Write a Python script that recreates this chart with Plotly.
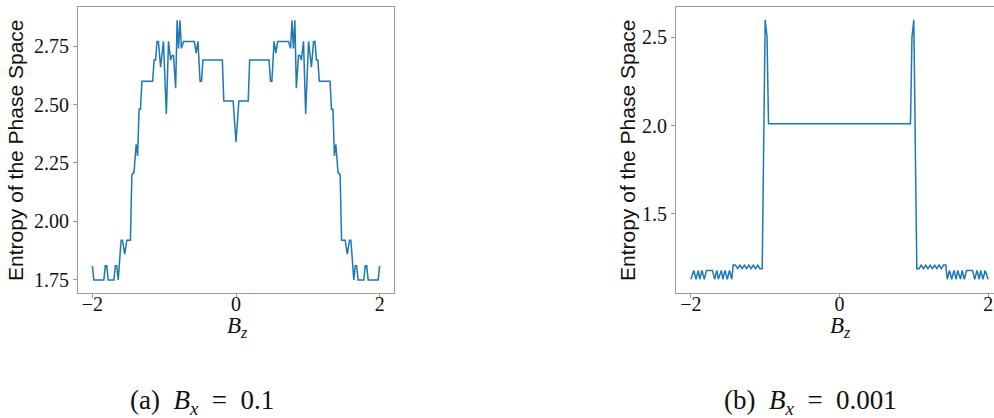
import plotly.graph_objects as go

# ---------------- data (a) Bx = 0.1 ----------------
bz_a = [-2.00, -1.98, -1.84, -1.82, -1.80, -1.78, -1.70, -1.68, -1.66, -1.64,
        -1.60, -1.58, -1.55, -1.52, -1.47, -1.45, -1.42, -1.39, -1.37, -1.35,
        -1.33, -1.31, -1.16, -1.14, -1.12, -1.10, -1.08, -1.05, -1.01, -0.97,
        -0.94, -0.91, -0.89, -0.87, -0.84, -0.82, -0.80, -0.78, -0.76, -0.73,
        -0.58, -0.555, -0.53, -0.50, -0.48, -0.46, -0.19, -0.17, -0.04, 0.00,
        0.04, 0.17, 0.19, 0.46, 0.48, 0.50, 0.53, 0.555, 0.58, 0.73,
        0.76, 0.78, 0.80, 0.82, 0.84, 0.87, 0.89, 0.91, 0.94, 0.97,
        1.01, 1.05, 1.08, 1.10, 1.12, 1.14, 1.16, 1.31, 1.33, 1.35,
        1.37, 1.39, 1.42, 1.45, 1.47, 1.52, 1.55, 1.58, 1.60, 1.64,
        1.66, 1.68, 1.70, 1.78, 1.80, 1.82, 1.84, 1.98, 2.00]
s_a = [1.81, 1.75, 1.75, 1.81, 1.81, 1.75, 1.75, 1.81, 1.81, 1.75,
       1.92, 1.92, 1.86, 1.92, 1.92, 2.20, 2.21, 2.33, 2.28, 2.48,
       2.48, 2.60, 2.60, 2.69, 2.69, 2.77, 2.77, 2.66, 2.77, 2.46,
       2.77, 2.69, 2.71, 2.71, 2.57, 2.86, 2.74, 2.86, 2.74, 2.77,
       2.77, 2.72, 2.77, 2.60, 2.60, 2.69, 2.69, 2.515, 2.515, 2.34,
       2.515, 2.515, 2.69, 2.69, 2.60, 2.60, 2.77, 2.72, 2.77, 2.77,
       2.74, 2.86, 2.74, 2.86, 2.57, 2.71, 2.71, 2.69, 2.77, 2.46,
       2.77, 2.66, 2.77, 2.77, 2.69, 2.69, 2.60, 2.60, 2.48, 2.48,
       2.28, 2.33, 2.21, 2.20, 1.92, 1.92, 1.86, 1.92, 1.92, 1.75,
       1.81, 1.81, 1.75, 1.75, 1.81, 1.81, 1.75, 1.75, 1.81]

# ---------------- data (b) Bx = 0.001 ----------------
bz_b = [-2.00, -1.96, -1.93, -1.90, -1.88, -1.85, -1.82, -1.79, -1.71, -1.68,
        -1.65, -1.63, -1.59, -1.57, -1.54, -1.51, -1.48, -1.45, -1.43, -1.40,
        -1.37, -1.34, -1.31, -1.28, -1.25, -1.22, -1.19, -1.16, -1.13, -1.10,
        -1.07, -1.04, -1.00, -0.975, -0.955,
        0.955, 0.975, 1.00, 1.04, 1.07, 1.10, 1.13, 1.16, 1.19, 1.22,
        1.25, 1.28, 1.31, 1.34, 1.37, 1.40, 1.43, 1.45, 1.48, 1.51,
        1.54, 1.57, 1.59, 1.63, 1.65, 1.68, 1.71, 1.79, 1.82, 1.85,
        1.88, 1.90, 1.93, 1.96, 2.00]
s_b = [1.13, 1.18, 1.13, 1.18, 1.13, 1.18, 1.13, 1.18, 1.18, 1.13,
       1.18, 1.13, 1.18, 1.13, 1.18, 1.13, 1.18, 1.13, 1.21, 1.21,
       1.19, 1.21, 1.19, 1.21, 1.19, 1.21, 1.19, 1.21, 1.19, 1.21,
       1.19, 1.19, 2.60, 2.50, 2.01,
       2.01, 2.50, 2.60, 1.19, 1.19, 1.21, 1.19, 1.21, 1.19, 1.21,
       1.19, 1.21, 1.19, 1.21, 1.19, 1.21, 1.21, 1.13, 1.18, 1.13,
       1.18, 1.13, 1.18, 1.13, 1.18, 1.13, 1.18, 1.18, 1.13, 1.18,
       1.13, 1.18, 1.13, 1.18, 1.13]

x_ticks = [-2, 0, 2]
x_ticktext = ["\u22122", "0", "2"]
ya_ticks = [1.75, 2.00, 2.25, 2.50, 2.75]
ya_ticktext = ["1.75", "2.00", "2.25", "2.50", "2.75"]
yb_ticks = [1.5, 2.0, 2.5]
yb_ticktext = ["1.5", "2.0", "2.5"]

W, H = 994, 418
ML, MR, MT, MB = 0, 0, 7, 125
PH = H - MT - MB

LINE = "#1f77b4"
SPINE = "#9a9a9a"
TICKFONT = dict(family="Liberation Serif, DejaVu Serif, serif", size=20, color="#111")

fig = go.Figure()
fig.add_trace(go.Scatter(x=bz_a, y=s_a, mode="lines", xaxis="x", yaxis="y",
                         line=dict(color=LINE, width=1.5), showlegend=False))
fig.add_trace(go.Scatter(x=bz_b, y=s_b, mode="lines", xaxis="x2", yaxis="y2",
                         line=dict(color=LINE, width=1.5), showlegend=False))

axis_common = dict(showgrid=False, zeroline=False, showline=True, linecolor=SPINE,
                   linewidth=1, ticks="outside", ticklen=4, tickcolor=SPINE,
                   tickwidth=1, tickfont=TICKFONT)

fig.update_layout(
    width=W, height=H,
    margin=dict(l=ML, r=MR, t=MT, b=MB),
    paper_bgcolor="white", plot_bgcolor="white",
    xaxis=dict(domain=[78 / W, 394 / W], range=[-2.2, 2.2], tickvals=x_ticks,
               ticktext=x_ticktext, mirror=True, anchor="y", ticklabelstandoff=-11,
               **axis_common),
    yaxis=dict(domain=[0, 1], range=[1.694, 2.917], tickvals=ya_ticks,
               ticktext=ya_ticktext, mirror=True, anchor="x", **axis_common),
    xaxis2=dict(domain=[676 / W, 1.0], range=[-2.2, 2.079], tickvals=x_ticks,
                ticktext=x_ticktext, mirror=True, anchor="y2", ticklabelstandoff=-11,
                **axis_common),
    yaxis2=dict(domain=[0, 1], range=[1.052, 2.672], tickvals=yb_ticks,
                ticktext=yb_ticktext, mirror=False, anchor="x2", **axis_common),
)

def py(ypx):
    return (H - MB - ypx) / PH

ytitle_font = dict(family="Liberation Sans, Arial, sans-serif", size=21, color="#111")
serif_font = dict(family="Liberation Serif, DejaVu Serif, serif", size=23, color="#111")
cap_font = dict(family="Liberation Serif, DejaVu Serif, serif", size=27, color="#111")

ann = []
for xpx in (15, 627):
    ann.append(dict(text="Entropy of the Phase Space", x=xpx / W, y=0.5, xref="paper",
                    yref="paper", textangle=-90, showarrow=False, font=ytitle_font,
                    xanchor="center", yanchor="middle"))
for xpx in (237, 840):
    ann.append(dict(text="<i>B</i><sub><i>z</i></sub>", x=xpx / W, y=py(327),
                    xref="paper", yref="paper", showarrow=False, font=serif_font,
                    xanchor="center", yanchor="middle"))
SP = "\u2002"
ann.append(dict(text="(a)" + SP + "<i>B</i><sub><i>x</i></sub>" + SP + "=" + SP + "0.1",
                x=202 / W, y=py(402), xref="paper", yref="paper", showarrow=False,
                font=cap_font, xanchor="center", yanchor="middle"))
ann.append(dict(text="(b)" + SP + "<i>B</i><sub><i>x</i></sub>" + SP + "=" + SP + "0.001",
                x=810 / W, y=py(402), xref="paper", yref="paper", showarrow=False,
                font=cap_font, xanchor="center", yanchor="middle"))
fig.update_layout(annotations=ann)

fig.write_html("out.html")
